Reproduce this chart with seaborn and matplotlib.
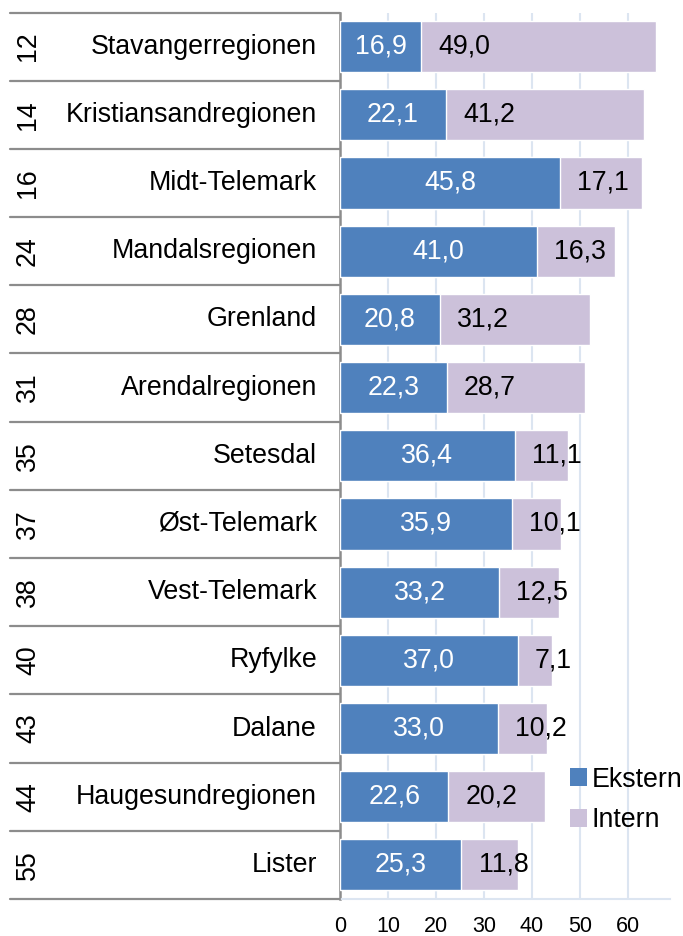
import matplotlib
matplotlib.use("Agg")
import matplotlib.pyplot as plt
import seaborn as sns
import pandas as pd
from matplotlib.patches import Patch

# ---- data ----
ranks = ["12", "14", "16", "24", "28", "31", "35", "37", "38", "40", "43", "44", "55"]
regions = ["Stavangerregionen", "Kristiansandregionen", "Midt-Telemark", "Mandalsregionen",
           "Grenland", "Arendalregionen", "Setesdal", "Øst-Telemark", "Vest-Telemark",
           "Ryfylke", "Dalane", "Haugesundregionen", "Lister"]
ekstern = [16.9, 22.1, 45.8, 41.0, 20.8, 22.3, 36.4, 35.9, 33.2, 37.0, 33.0, 22.6, 25.3]
intern = [49.0, 41.2, 17.1, 16.3, 31.2, 28.7, 11.1, 10.1, 12.5, 7.1, 10.2, 20.2, 11.8]
xticks = [0, 10, 20, 30, 40, 50, 60]
series_names = ["Ekstern", "Intern"]

BLUE = "#4F81BD"
PURPLE = "#CCC1DA"
GRID = "#DCE5F1"
GRAY = "#8C8C8C"

sns.set_theme(style="white")
plt.rcParams["font.family"] = ["Liberation Sans", "DejaVu Sans"]
plt.rcParams["text.color"] = "black"
plt.rcParams["xtick.color"] = "black"

df = pd.DataFrame({"region": regions, "ekstern": ekstern, "intern": intern})
df["total"] = df["ekstern"] + df["intern"]

W, H = 683, 936
fig = plt.figure(figsize=(W / 100, H / 100), dpi=100)
L, R, T, B = 340, 670, 12.5, 899
ax = fig.add_axes([L / W, 1 - B / H, (R - L) / W, (B - T) / H])

sns.barplot(data=df, x="total", y="region", color=PURPLE, saturation=1, width=0.75,
            ax=ax, zorder=2)
sns.barplot(data=df, x="ekstern", y="region", color=BLUE, saturation=1, width=0.75,
            ax=ax, zorder=3)

n = len(regions)
ax.set_ylim(n - 0.5, -0.5)
ax.set_xlim(0, 68.75)
ax.set_xticks(xticks)
ax.set_xticklabels([str(t) for t in xticks])
ax.xaxis.grid(True, color=GRID, linewidth=1.5, zorder=0)
ax.set_axisbelow(True)
ax.tick_params(axis="x", length=4, width=1.5, color=GRID, pad=8, labelcolor="black",
               labelsize=15.5)
ax.tick_params(axis="y", length=0, labelleft=False)
ax.set_xlabel("")
ax.set_ylabel("")
for s in ["top", "right"]:
    ax.spines[s].set_visible(False)
ax.spines["bottom"].set_color(GRID)
ax.spines["bottom"].set_linewidth(1.5)
ax.spines["left"].set_color(GRAY)
ax.spines["left"].set_linewidth(1.8)

ytr = ax.get_yaxis_transform()
axw = R - L
for i in range(n + 1):
    ax.plot([(10 - L) / axw, 0], [i - 0.5, i - 0.5], transform=ytr, clip_on=False,
            color=GRAY, linewidth=1.6, zorder=5)

FS = 19.3
for i, (rk, name) in enumerate(zip(ranks, regions)):
    ax.text((28 - L) / axw, i, rk, transform=ytr, rotation=90, ha="center",
            va="center", fontsize=FS, color="black")
    ax.text((317 - L) / axw, i, name, transform=ytr, ha="right", va="center",
            fontsize=FS, color="black")

for i, (e, it) in enumerate(zip(ekstern, intern)):
    ax.text(e / 2, i, f"{e:.1f}".replace(".", ","), ha="center", va="center",
            fontsize=FS, color="white", zorder=6)
    ax.annotate(f"{it:.1f}".replace(".", ","), xy=(e, i), xytext=(12.3, 0),
                textcoords="offset points", ha="left", va="center",
                fontsize=FS, color="black", zorder=6, annotation_clip=False)

handles = [Patch(facecolor=BLUE, edgecolor="none"), Patch(facecolor=PURPLE, edgecolor="none")]
fig.legend(handles, series_names, loc="center left",
           bbox_to_anchor=(570 / W, 1 - 800 / H), frameon=False, fontsize=FS,
           handlelength=0.65, handleheight=0.65, handletextpad=0.15,
           labelspacing=0.55, borderpad=0, borderaxespad=0, labelcolor="black")

fig.savefig("out.png", dpi=100)
